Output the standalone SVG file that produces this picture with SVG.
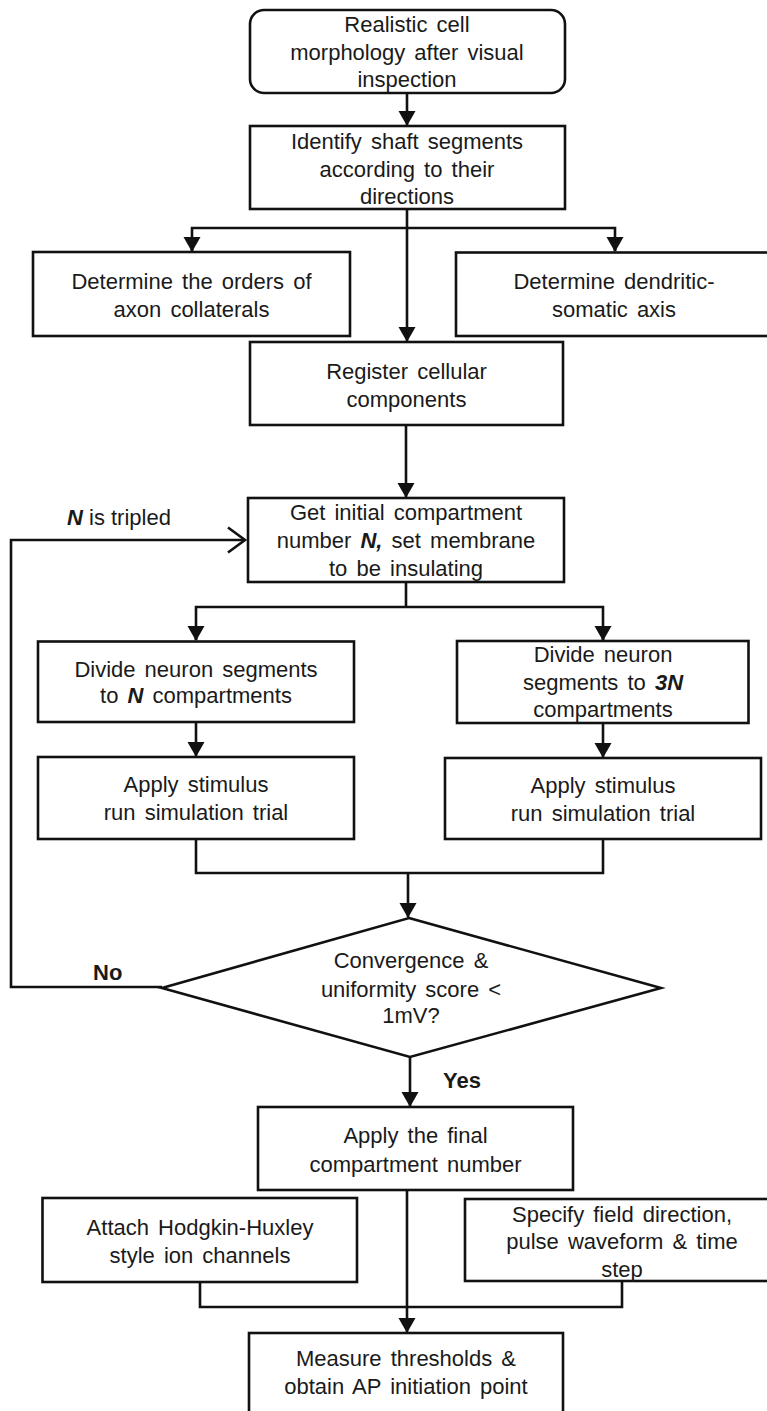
<svg xmlns="http://www.w3.org/2000/svg" width="767" height="1411" viewBox="0 0 767 1411">
<style>
  .box { fill: #ffffff; stroke: #111111; stroke-width: 2.6; }
  .t { font-family: "Liberation Sans", Arial, sans-serif; font-size: 22px; fill: #1a1a1a; text-anchor: middle; word-spacing: 3px; }
  .lbl { font-family: "Liberation Sans", Arial, sans-serif; font-size: 22px; fill: #1a1a1a; }
  .b { font-weight: bold; }
  .bi { font-weight: bold; font-style: italic; }
  .c { fill: none; stroke: #111111; stroke-width: 2.6; }
  .arr { marker-end: url(#ah); }
</style>
<defs>
  <marker id="ah" markerUnits="userSpaceOnUse" markerWidth="16" markerHeight="18" refX="14" refY="8.5" orient="auto">
    <path d="M0,0 L15,8.5 L0,17 z" fill="#111111"/>
  </marker>
</defs>
<rect width="767" height="1411" fill="#ffffff"/>

<g id="connectors">
  <line class="c arr" x1="407" y1="93" x2="407" y2="125"/>
  <line class="c arr" x1="407" y1="209" x2="407" y2="341"/>
  <polyline class="c" points="192,251 192,228 615,228 615,251"/>
  <line class="c arr" x1="192" y1="240" x2="192" y2="251"/>
  <line class="c arr" x1="615" y1="240" x2="615" y2="251"/>
  <line class="c arr" x1="406" y1="425" x2="406" y2="497"/>
  <line class="c" x1="406" y1="582" x2="406" y2="607"/>
  <polyline class="c" points="196,640 196,607 603,607 603,640"/>
  <line class="c arr" x1="196" y1="628" x2="196" y2="640"/>
  <line class="c arr" x1="603" y1="628" x2="603" y2="640"/>
  <line class="c arr" x1="196" y1="722" x2="196" y2="756"/>
  <line class="c arr" x1="603" y1="723" x2="603" y2="757"/>
  <polyline class="c" points="196,839 196,873 603,873 603,839"/>
  <line class="c arr" x1="408" y1="873" x2="408" y2="917"/>
  <polyline class="c" points="162,987 11,987 11,540 245,540"/>
  <polyline class="c" points="228,527.5 245,540 228,552.5"/>
  <line class="c arr" x1="410" y1="1057" x2="410" y2="1106"/>
  <line class="c arr" x1="407" y1="1190" x2="407" y2="1332"/>
  <polyline class="c" points="200,1282 200,1307 622,1307 622,1281"/>
  <text class="lbl" x="67" y="525"><tspan class="bi">N</tspan> is tripled</text>
  <text class="lbl b" x="93" y="980">No</text>
  <text class="lbl b" x="443" y="1088">Yes</text>
</g>

<g id="n1">
  <rect class="box" x="250" y="10" width="315" height="83" rx="14" ry="14"/>
  <text class="t" x="407" y="32">Realistic cell</text>
  <text class="t" x="407" y="59.5">morphology after visual</text>
  <text class="t" x="407" y="87">inspection</text>
</g>

<g id="n2">
  <rect class="box" x="250" y="126" width="315" height="83"/>
  <text class="t" x="407" y="148.5">Identify shaft segments</text>
  <text class="t" x="407" y="176.5">according to their</text>
  <text class="t" x="407" y="204">directions</text>
</g>

<g id="n3">
  <rect class="box" x="33" y="252" width="317" height="84"/>
  <text class="t" x="191.5" y="288.5">Determine the orders of</text>
  <text class="t" x="191.5" y="316.5">axon collaterals</text>
</g>

<g id="n4">
  <rect class="box" x="456" y="252.5" width="320" height="83.5"/>
  <text class="t" x="614" y="288.5">Determine dendritic-</text>
  <text class="t" x="614" y="316.5">somatic axis</text>
</g>

<g id="n5">
  <rect class="box" x="250" y="342" width="313" height="83"/>
  <text class="t" x="406.5" y="378.5">Register cellular</text>
  <text class="t" x="406.5" y="406.5">components</text>
</g>

<g id="n6">
  <rect class="box" x="248" y="498" width="316" height="84"/>
  <text class="t" x="406" y="520">Get initial compartment</text>
  <text class="t" x="406" y="548">number <tspan class="bi">N,</tspan> set membrane</text>
  <text class="t" x="406" y="576">to be insulating</text>
</g>

<g id="n7">
  <rect class="box" x="38" y="641.5" width="316" height="80.5"/>
  <text class="t" x="196" y="676.5">Divide neuron segments</text>
  <text class="t" x="196" y="703">to <tspan class="bi">N</tspan> compartments</text>
</g>

<g id="n8">
  <rect class="box" x="457" y="641" width="291.5" height="82"/>
  <text class="t" x="603" y="662">Divide neuron</text>
  <text class="t" x="603" y="690">segments to <tspan class="bi">3N</tspan></text>
  <text class="t" x="603" y="717">compartments</text>
</g>

<g id="n9">
  <rect class="box" x="38" y="757" width="316" height="82"/>
  <text class="t" x="196" y="792">Apply stimulus</text>
  <text class="t" x="196" y="820">run simulation trial</text>
</g>

<g id="n10">
  <rect class="box" x="445" y="758" width="316" height="81"/>
  <text class="t" x="603" y="793">Apply stimulus</text>
  <text class="t" x="603" y="821">run simulation trial</text>
</g>

<g id="n11">
  <polygon class="box" points="409,918 661,988 410,1057 162,988"/>
  <text class="t" x="411" y="968">Convergence &amp;</text>
  <text class="t" x="411" y="997">uniformity score &lt;</text>
  <text class="t" x="411" y="1023">1mV?</text>
</g>

<g id="n12">
  <rect class="box" x="258" y="1107" width="315" height="83"/>
  <text class="t" x="415.5" y="1143">Apply the final</text>
  <text class="t" x="415.5" y="1172">compartment number</text>
</g>

<g id="n13">
  <rect class="box" x="42.5" y="1198" width="314.5" height="84"/>
  <text class="t" x="200" y="1235">Attach Hodgkin-Huxley</text>
  <text class="t" x="200" y="1263">style ion channels</text>
</g>

<g id="n14">
  <rect class="box" x="465" y="1199" width="320" height="82"/>
  <text class="t" x="622" y="1222">Specify field direction,</text>
  <text class="t" x="622" y="1249">pulse waveform &amp; time</text>
  <text class="t" x="622" y="1277">step</text>
</g>

<g id="n15">
  <rect class="box" x="249" y="1333" width="314" height="100"/>
  <text class="t" x="406" y="1366">Measure thresholds &amp;</text>
  <text class="t" x="406" y="1394">obtain AP initiation point</text>
</g>
</svg>
